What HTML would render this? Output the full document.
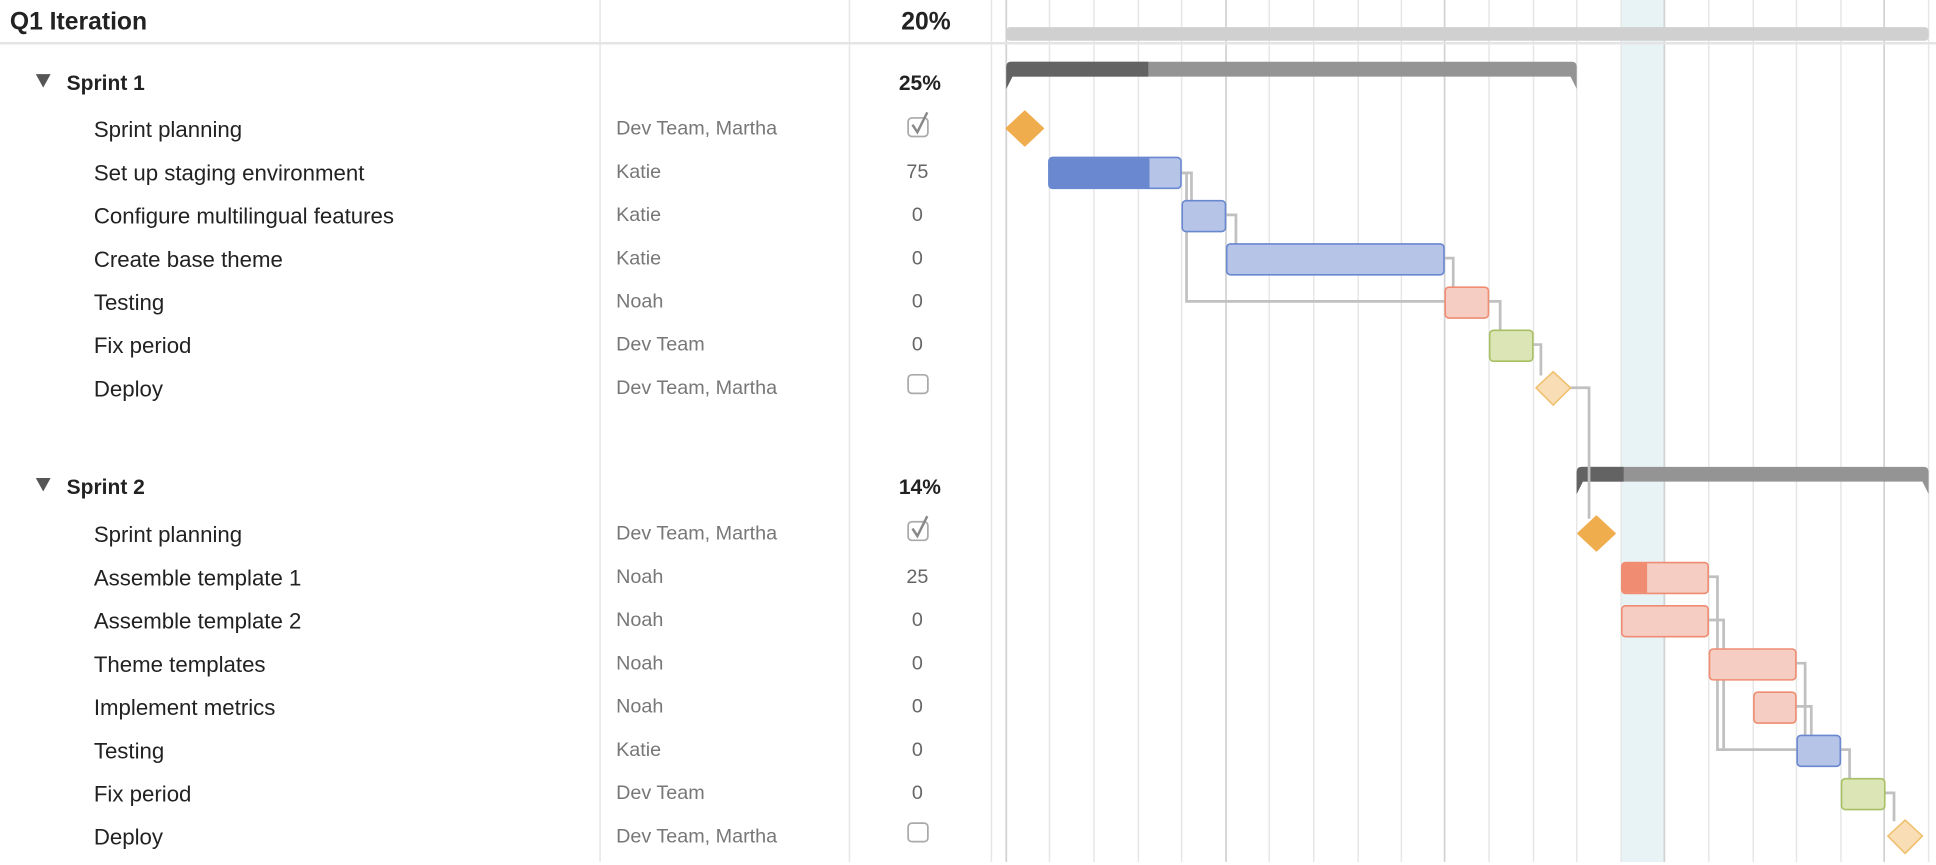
<!DOCTYPE html>
<html><head><meta charset="utf-8"><style>
body{margin:0;width:1936px;height:862px;overflow:hidden;background:#fff;font-family:"Liberation Sans",sans-serif}
#w{position:absolute;left:0;top:0;width:1568px;height:698px;transform:scale(1.2347,1.235);transform-origin:0 0}
#tx{position:absolute;left:0;top:2px;width:1568px;height:698px}
.t{position:absolute;white-space:nowrap}
.n{left:76px;font-size:18px;color:#222}
.a{left:499px;font-size:16px;color:#777}
.v{left:703px;width:80px;text-align:center;font-size:16px;color:#666}
.b{font-weight:bold;color:#222}
</style></head><body><div id="w">
<svg width="1568" height="698" style="position:absolute;left:0;top:0">
<rect x="1313" y="0" width="35" height="698" fill="#e8f3f6"/>
<g stroke="#e6e6e6" stroke-width="1.2">
<line x1="850" y1="0" x2="850" y2="698"/><line x1="886" y1="0" x2="886" y2="698"/><line x1="922" y1="0" x2="922" y2="698"/><line x1="957" y1="0" x2="957" y2="698"/><line x1="1028" y1="0" x2="1028" y2="698"/><line x1="1064" y1="0" x2="1064" y2="698"/><line x1="1100" y1="0" x2="1100" y2="698"/><line x1="1135" y1="0" x2="1135" y2="698"/><line x1="1206" y1="0" x2="1206" y2="698"/><line x1="1242" y1="0" x2="1242" y2="698"/><line x1="1277" y1="0" x2="1277" y2="698"/><line x1="1313" y1="0" x2="1313" y2="698"/><line x1="1384" y1="0" x2="1384" y2="698"/><line x1="1420" y1="0" x2="1420" y2="698"/><line x1="1455" y1="0" x2="1455" y2="698"/><line x1="1491" y1="0" x2="1491" y2="698"/><line x1="1562" y1="0" x2="1562" y2="698"/>
<line x1="486" y1="0" x2="486" y2="698"/><line x1="688" y1="0" x2="688" y2="698"/><line x1="803" y1="0" x2="803" y2="698"/>
</g>
<g stroke="#d2d2d2" stroke-width="1.4">
<line x1="815" y1="0" x2="815" y2="698"/><line x1="993" y1="0" x2="993" y2="698"/><line x1="1170" y1="0" x2="1170" y2="698"/><line x1="1348" y1="0" x2="1348" y2="698"/><line x1="1526" y1="0" x2="1526" y2="698"/>
</g>
<rect x="0" y="34" width="1568" height="2" fill="#e4e4e4"/>
<rect x="815" y="22" width="747" height="11" rx="3" fill="#d0d0d0"/>
<path d="M815,54 q0,-4 4,-4 H1273 q4,0 4,4 V72 L1272,62 H820 L815,72 Z" fill="#949494"/>
<path d="M815,54 q0,-4 4,-4 H930 V62 H820 L815,72 Z" fill="#636363"/>
<path d="M1277,382 q0,-4 4,-4 H1558 q4,0 4,4 V400 L1557,390 H1282 L1277,400 Z" fill="#949494"/>
<path d="M1277,382 q0,-4 4,-4 H1315 V390 H1282 L1277,400 Z" fill="#636363"/>
<g fill="none" stroke="#c0c0c0" stroke-width="2.2">
<polyline points="957,140 965,140 965,162"/>
<polyline points="957,140 961,140 961,244 1170,244"/>
<polyline points="993,174 1001,174 1001,198"/>
<polyline points="1170,209 1177,209 1177,232"/>
<polyline points="1206,244 1215,244 1215,267"/>
<polyline points="1242,279 1248,279 1248,304"/>
<polyline points="1272,314 1287,314 1287,420"/>
<polyline points="1384,467 1391,467 1391,607 1455,607"/>
<polyline points="1384,502 1396,502 1396,525"/>
<polyline points="1396,525 1396,607"/>
<polyline points="1455,537 1462,537 1462,595"/>
<polyline points="1455,572 1467,572 1467,595"/>
<polyline points="1491,607 1498,607 1498,630"/>
<polyline points="1526,642 1534,642 1534,665"/>
</g>
<g stroke-width="1.3">
<rect x="849.5" y="127.5" width="107" height="25" rx="3" fill="#b6c4e8" stroke="#6a88d0"/>
<path d="M852.5,128 H931 V152 H852.5 q-3,0 -3,-3 V131 q0,-3 3,-3Z" fill="#6a88d0"/>
<rect x="957.5" y="162.5" width="35" height="25" rx="3" fill="#b6c4e8" stroke="#6a88d0"/>
<rect x="993.5" y="197.5" width="176" height="25" rx="3" fill="#b6c4e8" stroke="#6a88d0"/>
<rect x="1170.5" y="232.5" width="35" height="25" rx="3" fill="#f5cdc3" stroke="#ef8c72"/>
<rect x="1206.5" y="267.5" width="35" height="25" rx="3" fill="#dce5b5" stroke="#a8c064"/>
<rect x="1313.5" y="455.5" width="70" height="25" rx="3" fill="#f5cdc3" stroke="#ef8c72"/>
<path d="M1316.5,456 H1334 V480 H1316.5 q-3,0 -3,-3 V459 q0,-3 3,-3Z" fill="#ef8c72"/>
<rect x="1313.5" y="490.5" width="70" height="25" rx="3" fill="#f5cdc3" stroke="#ef8c72"/>
<rect x="1384.5" y="525.5" width="70" height="25" rx="3" fill="#f5cdc3" stroke="#ef8c72"/>
<rect x="1420.5" y="560.5" width="34" height="25" rx="3" fill="#f5cdc3" stroke="#ef8c72"/>
<rect x="1455.5" y="595.5" width="35" height="25" rx="3" fill="#b6c4e8" stroke="#6a88d0"/>
<rect x="1491.5" y="630.5" width="35" height="25" rx="3" fill="#dce5b5" stroke="#a8c064"/>
<path d="M830,90 L845,104 L830,118 L815,104Z" fill="#f0ad4e" stroke="#f0ad4e" stroke-linejoin="round"/>
<path d="M1258,301 L1272,314 L1258,328 L1244,314Z" fill="#f9deb5" stroke="#f0c070" stroke-linejoin="round"/>
<path d="M1293,418 L1308,432 L1293,446 L1278,432Z" fill="#f0ad4e" stroke="#f0ad4e" stroke-linejoin="round"/>
<path d="M1543,664 L1557,677 L1543,691 L1529,677Z" fill="#f9deb5" stroke="#f0c070" stroke-linejoin="round"/>
</g>
<path d="M29,60 H41 L35,71Z" fill="#555"/>
<path d="M29,387 H41 L35,398Z" fill="#555"/>
<g fill="none" stroke="#aaa" stroke-width="1.4">
<rect x="735.5" y="95.5" width="16" height="15" rx="3"/>
<rect x="735.5" y="303.5" width="16" height="15" rx="3"/>
<rect x="735.5" y="422.5" width="16" height="15" rx="3"/>
<rect x="735.5" y="666.5" width="16" height="15" rx="3"/>
</g>
<g fill="none" stroke="#888" stroke-width="2">
<polyline points="739,101 743,107 751,91"/>
<polyline points="739,428 743,434 751,418"/>
</g>
</svg>
<div id="tx">
<div class="t b" style="left:8px;top:5px;font-size:20px">Q1 Iteration</div>
<div class="t b" style="left:710px;top:5px;width:80px;text-align:center;font-size:20px">20%</div>
<div class="t b" style="left:54px;top:56px;font-size:17px">Sprint 1</div>
<div class="t b v" style="top:56px;font-size:17px;color:#222;left:705px">25%</div>
<div class="t b" style="left:54px;top:383px;font-size:17px">Sprint 2</div>
<div class="t b v" style="top:383px;font-size:17px;color:#222;left:705px">14%</div>

<div class="t n" style="top:93px">Sprint planning</div><div class="t a" style="top:94px">Dev Team, Martha</div>
<div class="t n" style="top:128px">Set up staging environment</div><div class="t a" style="top:129px">Katie</div><div class="t v" style="top:129px">75</div>
<div class="t n" style="top:163px">Configure multilingual features</div><div class="t a" style="top:164px">Katie</div><div class="t v" style="top:164px">0</div>
<div class="t n" style="top:198px">Create base theme</div><div class="t a" style="top:199px">Katie</div><div class="t v" style="top:199px">0</div>
<div class="t n" style="top:233px">Testing</div><div class="t a" style="top:234px">Noah</div><div class="t v" style="top:234px">0</div>
<div class="t n" style="top:268px">Fix period</div><div class="t a" style="top:269px">Dev Team</div><div class="t v" style="top:269px">0</div>
<div class="t n" style="top:303px">Deploy</div><div class="t a" style="top:304px">Dev Team, Martha</div>

<div class="t n" style="top:421px">Sprint planning</div><div class="t a" style="top:422px">Dev Team, Martha</div>
<div class="t n" style="top:456px">Assemble template 1</div><div class="t a" style="top:457px">Noah</div><div class="t v" style="top:457px">25</div>
<div class="t n" style="top:491px">Assemble template 2</div><div class="t a" style="top:492px">Noah</div><div class="t v" style="top:492px">0</div>
<div class="t n" style="top:526px">Theme templates</div><div class="t a" style="top:527px">Noah</div><div class="t v" style="top:527px">0</div>
<div class="t n" style="top:561px">Implement metrics</div><div class="t a" style="top:562px">Noah</div><div class="t v" style="top:562px">0</div>
<div class="t n" style="top:596px">Testing</div><div class="t a" style="top:597px">Katie</div><div class="t v" style="top:597px">0</div>
<div class="t n" style="top:631px">Fix period</div><div class="t a" style="top:632px">Dev Team</div><div class="t v" style="top:632px">0</div>
<div class="t n" style="top:666px">Deploy</div><div class="t a" style="top:667px">Dev Team, Martha</div>
</div>
</div></body></html>
